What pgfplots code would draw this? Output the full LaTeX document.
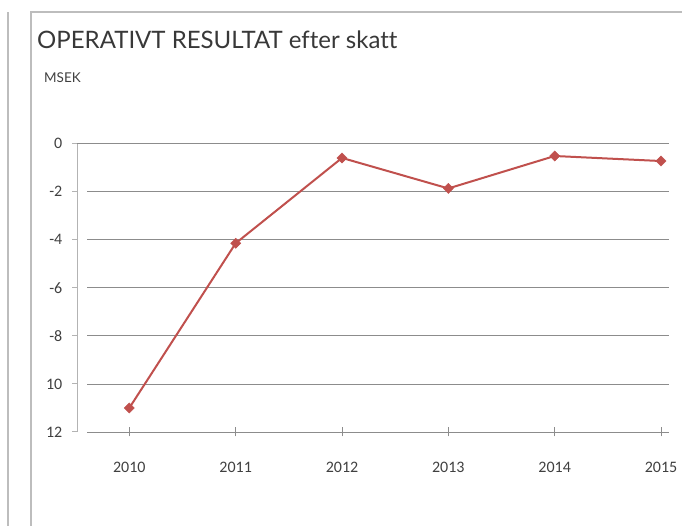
\documentclass[border=0pt]{standalone}
\usepackage{pgfplots}
\pgfplotsset{compat=1.18}
\usepackage{fontspec}
\setmainfont{Lato}[Ligatures=NoCommon]
\newfontfamily\tickfont{Carlito}
\definecolor{serie}{HTML}{C0504D}
\definecolor{gridc}{HTML}{8C8C8C}
\definecolor{framec}{HTML}{BDBDBD}
\definecolor{txt}{HTML}{404040}
\begin{document}
\begin{tikzpicture}[x=1pt,y=1pt]
\useasboundingbox (0,0) rectangle (682,526);
% panel frames
\draw[framec, line width=1.4pt] (8,0) -- (8,514);
\draw[framec, line width=1.4pt] (31,0) -- (31,514) -- (682,514);
% title
\node[anchor=base west, inner sep=0pt, text=black!78, font=\fontsize{24}{27}\selectfont] at (37,477) {OPERATIVT RESULTAT efter skatt};
\node[anchor=base west, inner sep=0pt, text=txt, font=\fontsize{13.5}{15}\selectfont] at (44,443) {MSEK};
\begin{axis}[
  at={(87pt,94pt)}, anchor=south west,
  scale only axis, width=582pt, height=288.5pt,
  xmin=2009.602, xmax=2015.075, ymin=-12, ymax=0,
  axis line style={draw=none},
  xtick={2010,2011,2012,2013,2014,2015},
  xticklabels={2010,2011,2012,2013,2014,2015},
  ytick={-12,-10,-8,-6,-4,-2,0},
  yticklabels={12,10,-8,-6,-4,-2,0},
  xmajorgrids=false,
  ymajorgrids=true,
  y grid style={draw=gridc, line width=0.8pt},
  ytick style={draw=none},
  xtick style={draw=gridc, line width=0.8pt},
  major tick length=9pt, tick align=center,
  xtick pos=bottom,
  ytick pos=left,
  tick label style={font=\tickfont\fontsize{16}{18}\selectfont, text=txt},
  xticklabel style={anchor=base, inner sep=0pt, yshift=-36pt},
  yticklabel style={anchor=east, inner sep=0pt, xshift=-20pt},
  clip=false,
]
\addplot[serie, line width=2pt, mark=square*, mark size=3.6pt, mark options={fill=serie, draw=serie, line width=0.4pt, rotate=45}]
 coordinates {(2010,-11.0) (2011,-4.15) (2012,-0.6) (2013,-1.87) (2014,-0.52) (2015,-0.73)};
\end{axis}
% y axis line with outward ticks and x axis
\draw[framec!80!gridc, line width=1pt] (77,382.5) -- (77,94);
\foreach \v in {0,...,6} { \draw[framec!80!gridc, line width=1pt] (72,{94+\v*288.5/6}) -- (77,{94+\v*288.5/6}); }
\draw[gridc, line width=0.8pt] (77,382.5) -- (87,382.5);
\draw[gridc, line width=0.8pt] (87,94) -- (669,94);
\end{tikzpicture}
\end{document}
